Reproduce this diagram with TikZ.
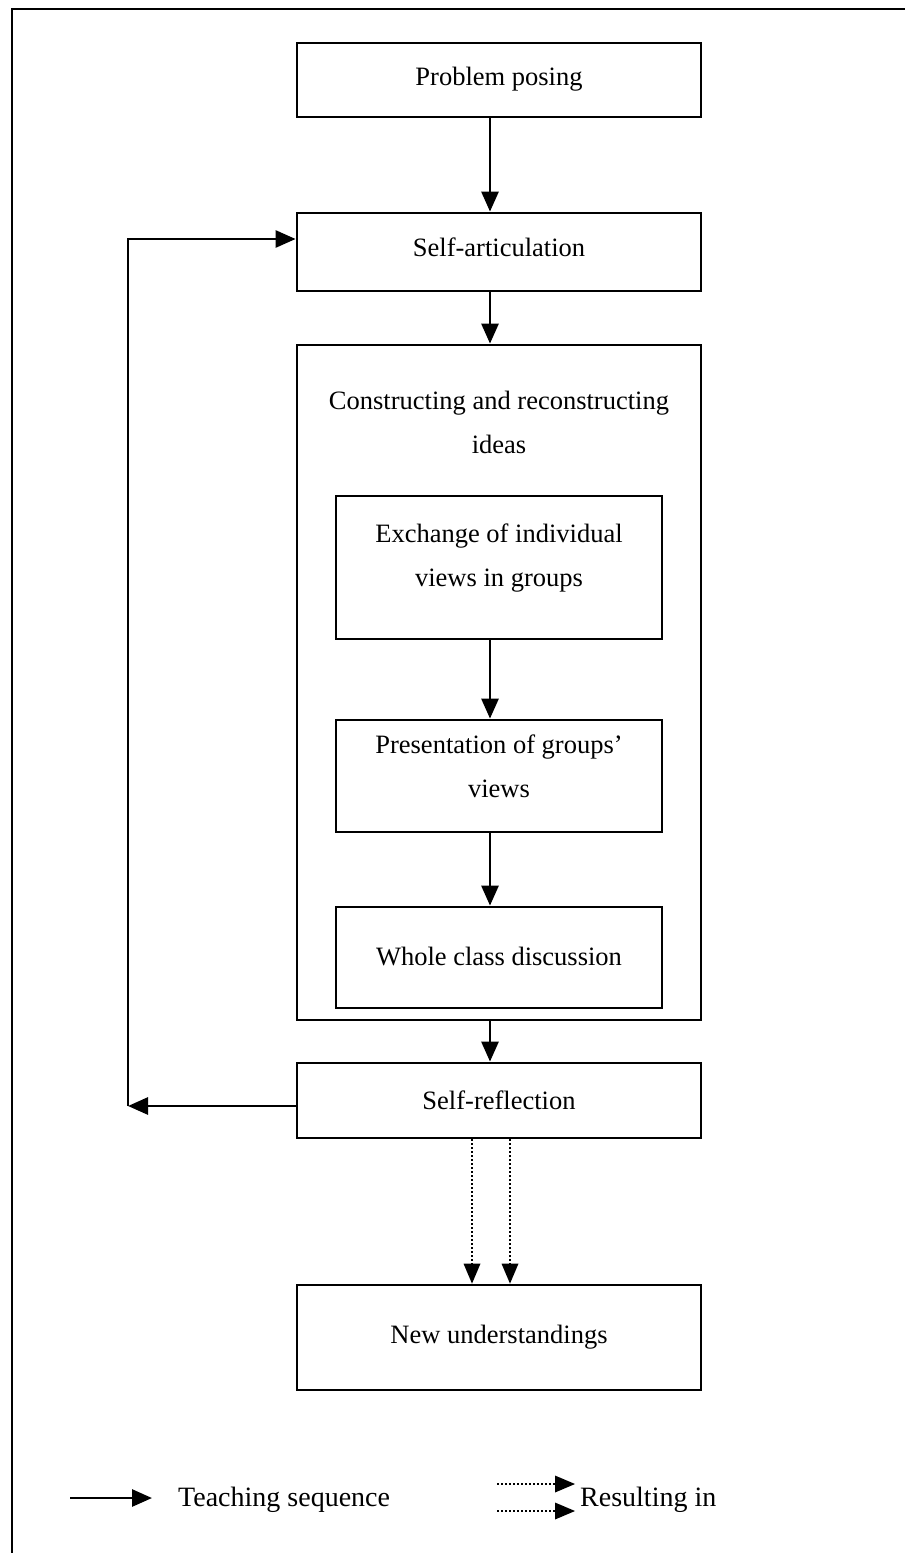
\documentclass[tikz,border=0pt]{standalone}
\usepackage{fontspec}
\setmainfont{Liberation Serif}
\usetikzlibrary{arrows.meta}
\begin{document}
\begin{tikzpicture}[x=1pt,y=-1pt,
  box/.style={draw, line width=2.8pt, minimum width=404pt, inner sep=0pt, align=center,
    font=\fontsize{26.5}{44}\selectfont},
  inbox/.style={box, minimum width=326pt},
  lbl/.style={inner sep=0pt, align=center, font=\fontsize{26.5}{44}\selectfont},
  arr/.style={line width=2.8pt, -{Triangle[length=20pt,width=17pt]}},
  dotarr/.style={line width=2pt, dotted, -{Triangle[length=20pt,width=17pt,line width=0pt]}},
  frame/.style={line width=2.8pt}]
\useasboundingbox (0,0) rectangle (905,1553);
% outer frame (top and left only)
\draw[frame] (12,1553) -- (12,9) -- (905,9);
% boxes
\node[box, minimum height=74pt] (pp) at (499,80) {\raisebox{7pt}{Problem posing}};
\node[box, minimum height=78pt] (sa) at (499,252) {\raisebox{9pt}{Self-articulation}};
\node[box, minimum height=675pt] (big) at (499,682.5) {};
\node[lbl] (bigt) at (499,422) {Constructing and reconstructing\\ideas};
\node[inbox, minimum height=143pt] (ex) at (499,567.5) {Exchange of individual\\views in groups\\[-19pt]};
\node[inbox, minimum height=112pt] (pr) at (499,776) {Presentation of groups'\\views\\[-25pt]};
\node[inbox, minimum height=101pt] (wc) at (499,957.5) {\raisebox{3pt}{Whole class discussion}};
\node[box, minimum height=75pt] (sr) at (499,1100.5) {\raisebox{-5pt}{Self-reflection}};
\node[box, minimum height=105pt] (nu) at (499,1337.5) {\raisebox{-4pt}{New understandings}};
% vertical arrows
\coordinate (ax) at (490,0);
\draw[arr] (pp.south -| ax) -- (sa.north -| ax);
\draw[arr] (sa.south -| ax) -- (big.north -| ax);
\draw[arr] (ex.south -| ax) -- (pr.north -| ax);
\draw[arr] (pr.south -| ax) -- (wc.north -| ax);
\draw[arr] (big.south -| ax) -- (sr.north -| ax);
% dotted arrows
\coordinate (d1) at (472,0);
\coordinate (d2) at (510,0);
\draw[dotarr] (sr.south -| d1) -- (nu.north -| d1);
\draw[dotarr] (sr.south -| d2) -- (nu.north -| d2);
% feedback loop
\coordinate (fbL) at (128,1106);
\coordinate (fbT) at (128,239);
\draw[arr] (sr.west |- fbL) -- (fbL);
\draw[arr] (fbL) -- (fbT) -- (sa.west |- fbT);
% legend
\coordinate (l1s) at (70,1498);
\coordinate (l1e) at (152,1498);
\draw[arr] (l1s) -- (l1e);
\node[anchor=west, inner sep=0pt, font=\fontsize{28}{34}\selectfont] (lt1) at (178,1500) {Teaching sequence};
\coordinate (l2s) at (497,1484);
\coordinate (l2e) at (575,1484);
\coordinate (l3s) at (497,1511);
\coordinate (l3e) at (575,1511);
\draw[dotarr] (l2s) -- (l2e);
\draw[dotarr] (l3s) -- (l3e);
\node[anchor=west, inner sep=0pt, font=\fontsize{28}{34}\selectfont] (lt2) at (580,1500) {Resulting in};
\end{tikzpicture}
\end{document}
